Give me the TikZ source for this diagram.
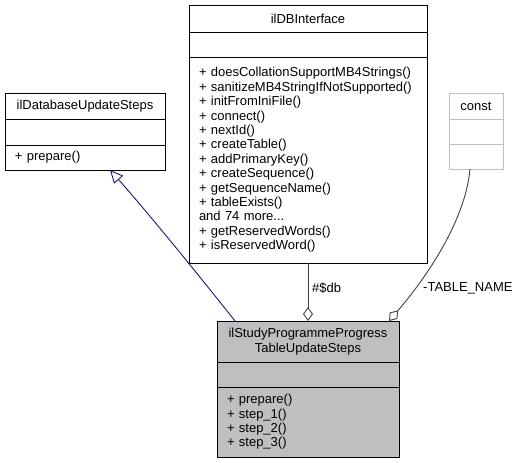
\documentclass[tikz,border=0pt]{standalone}
\usepackage{fontspec}
\setmainfont{Liberation Sans}
\usetikzlibrary{arrows.meta,positioning}
\definecolor{edgenavy}{HTML}{191970}
\definecolor{edgegray}{HTML}{404040}
\definecolor{boxgray}{HTML}{BFBFBF}
\tikzset{
  classpart/.style={draw=black, fill=white, line width=1pt, anchor=north west,
    inner sep=0pt, outer sep=0pt, font=\fontsize{13}{14.4}\selectfont},
  titlepart/.style={classpart, align=center},
  methodpart/.style={classpart, align=left, inner xsep=10pt},
  inherit/.style={draw=edgenavy, line width=0.9pt,
    -{Triangle[open, length=13pt, width=12pt]}},
  aggreg/.style={draw=edgegray, line width=0.9pt,
    -{Diamond[open, length=14pt, width=10pt]}},
  edgelabel/.style={anchor=west, inner sep=0pt, font=\fontsize{13}{14.4}\selectfont}
}
\begin{document}
\begin{tikzpicture}[x=1pt, y=-1pt]
  \useasboundingbox (0,0) rectangle (523,463);
  % base class
  \node [titlepart, minimum width=160pt, minimum height=26pt] (dbsteps-title) at (5,93) {ilDatabaseUpdateSteps};
  \node [classpart, minimum width=160pt, minimum height=26pt] (dbsteps-attr) at (dbsteps-title.south west) {};
  \node [methodpart, text width=140pt, minimum height=25pt] (dbsteps-methods) at (dbsteps-attr.south west) {+ prepare()};
  % database interface
  \node [titlepart, minimum width=238pt, minimum height=27pt] (dbif-title) at (189,5) {ilDBInterface};
  \node [classpart, minimum width=238pt, minimum height=25pt] (dbif-attr) at (dbif-title.south west) {};
  \node [methodpart, text width=218pt, minimum height=206pt] (dbif-methods) at (dbif-attr.south west)
    {+ doesCollationSupportMB4Strings()\\+ sanitizeMB4StringIfNotSupported()\\+ initFromIniFile()\\+ connect()\\+ nextId()\\+ createTable()\\+ addPrimaryKey()\\+ createSequence()\\+ getSequenceName()\\+ tableExists()\\and 74 more...\\+ getReservedWords()\\+ isReservedWord()};
  % const
  \node [titlepart, draw=boxgray, minimum width=54pt, minimum height=26pt] (const-title) at (449,93) {const};
  \node [classpart, draw=boxgray, minimum width=54pt, minimum height=25pt] (const-attr) at (const-title.south west) {};
  \node [classpart, draw=boxgray, minimum width=54pt, minimum height=25pt] (const-methods) at (const-attr.south west) {};
  % the class itself
  \node [titlepart, fill=boxgray, minimum width=182pt, minimum height=41pt] (steps-title) at (217,321) {ilStudyProgrammeProgress\\TableUpdateSteps};
  \node [classpart, fill=boxgray, minimum width=182pt, minimum height=25pt] (steps-attr) at (steps-title.south west) {};
  \node [methodpart, fill=boxgray, text width=162pt, minimum height=70pt] (steps-methods) at (steps-attr.south west)
    {+ prepare()\\+ step\_1()\\+ step\_2()\\+ step\_3()};
  % relations
  \draw [inherit] ([xshift=-73pt]steps-title.north) .. controls (205,283) and (150,215) .. ([xshift=25pt]dbsteps-methods.south);
  \draw [aggreg] (dbif-methods.south) -- (steps-title.north);
  \draw [aggreg] ([xshift=-6pt]const-methods.south) .. controls (465,225) and (420,285) .. ([xshift=-10pt]steps-title.north east);
  \node [edgelabel] (db-label) at (312,288) {\#\$db};
  \node [edgelabel] (table-label) at (423,288) {-TABLE\_NAME};
\end{tikzpicture}
\end{document}
